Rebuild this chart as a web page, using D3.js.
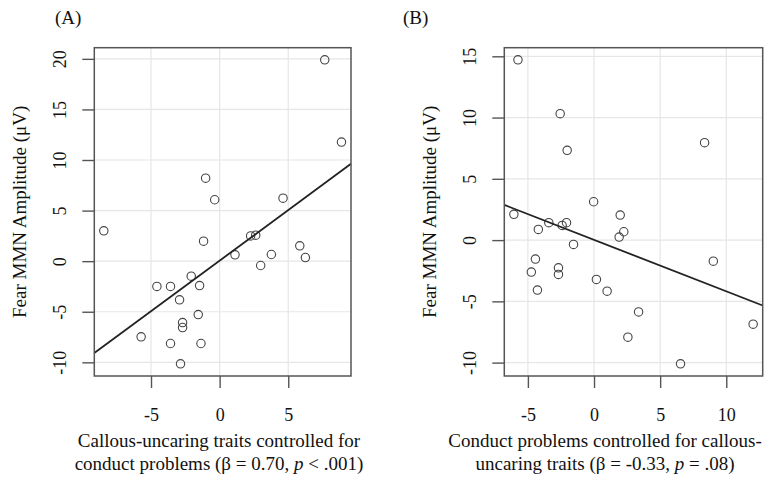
<!DOCTYPE html>
<html>
<head>
<meta charset="utf-8">
<script src="https://cdn.jsdelivr.net/npm/d3@7"></script>
<style>
  body { margin: 0; background: #fff; }
  text { font-family: "Liberation Serif", "Times New Roman", serif; fill: #111; }
</style>
</head>
<body>
<div id="chart"></div>
<script>
// Panel A: callous-uncaring traits (residual) vs fear MMN amplitude
var cuTraits = [-8.44, 7.66, 8.88, -1.02, -0.36, 4.62, -1.17, 2.26, 2.63, 1.12, 3.77, 2.99, 5.84,
    6.25, -2.07, -4.57, -3.58, -1.46, -2.92, -1.56, -2.70, -2.70, -5.72, -3.58, -1.36, -2.85];
var fearA = [3.0, 19.9, 11.77, 8.2, 6.07, 6.23, 1.98, 2.5, 2.57, 0.63, 0.66, -0.43, 1.52,
    0.36, -1.48, -2.5, -2.5, -2.41, -3.82, -5.28, -6.07, -6.56, -7.48, -8.14, -8.14, -10.15];
// intercept, slope
var fitA = [0.05, 1.0];

// Panel B: conduct problems (residual) vs fear MMN amplitude
var conduct = [-5.75, -6.06, -2.56, -2.03, 8.36, -0.03, 1.98, 2.25, 1.90, -3.42, -2.41, -2.08, -4.21,
    -1.55, -4.43, -4.74, -2.69, -2.69, -4.28, 0.18, 0.99, 9.02, 3.37, 2.56, 6.54, 12.03];
var fearB = [14.71, 2.10, 10.32, 7.33, 7.95, 3.13, 2.04, 0.68, 0.25, 1.42, 1.20, 1.42, 0.87,
    -0.35, -1.55, -2.61, -2.26, -2.80, -4.08, -3.21, -4.17, -1.72, -5.86, -7.92, -10.10, -6.86];
var fitB = [0.02, -0.42];

var xTicksA = [-5, 0, 5];
var yTicksA = [-10, -5, 0, 5, 10, 15, 20];
var xTicksB = [-5, 0, 5, 10];
var yTicksB = [-10, -5, 0, 5, 10, 15];

var yTitle = 'Fear MMN Amplitude (\u03bcV)';

var chart_width = 775;
var chart_height = 481;

var svg = d3.select('#chart')
    .append('svg')
    .attr('width', chart_width)
    .attr('height', chart_height);

// R style 4% padding around the data range
function padded(vals) {
    var ext = d3.extent(vals);
    var pad = (ext[1] - ext[0]) * 0.04;
    return [ext[0] - pad, ext[1] + pad];
}

// plain hyphen like R, not the unicode minus
function fmt(d) { return String(d); }

function drawPanel(p) {
    var x_scale = d3.scaleLinear().domain(padded(p.x)).range([p.left, p.right]);
    var y_scale = d3.scaleLinear().domain(padded(p.y)).range([p.bottom, p.top]);
    var g = svg.append('g');

    // grid
    g.selectAll('.gx').data(p.xTicks).enter().append('line')
        .attr('x1', function(d) { return x_scale(d); })
        .attr('x2', function(d) { return x_scale(d); })
        .attr('y1', p.top).attr('y2', p.bottom)
        .attr('stroke', '#e6e6e6').attr('stroke-width', 1.2);
    g.selectAll('.gy').data(p.yTicks).enter().append('line')
        .attr('y1', function(d) { return y_scale(d); })
        .attr('y2', function(d) { return y_scale(d); })
        .attr('x1', p.left).attr('x2', p.right)
        .attr('stroke', '#e6e6e6').attr('stroke-width', 1.2);

    // axes
    var x_axis = d3.axisBottom(x_scale).tickValues(p.xTicks).tickSize(12).tickPadding(20)
        .tickFormat(fmt);
    var gx = g.append('g')
        .attr('transform', 'translate(0,' + p.bottom + ')')
        .call(x_axis)
        .attr('font-family', null);
    gx.select('.domain').remove();
    gx.selectAll('line').attr('stroke', '#555').attr('stroke-width', 1.4);
    gx.selectAll('text').attr('font-size', 18).attr('fill', '#222');

    var y_axis = d3.axisLeft(y_scale).tickValues(p.yTicks).tickSize(12).tickFormat(fmt);
    var gy = g.append('g')
        .attr('transform', 'translate(' + p.left + ',0)')
        .call(y_axis)
        .attr('font-family', null);
    gy.select('.domain').remove();
    gy.selectAll('line').attr('stroke', '#555').attr('stroke-width', 1.4);
    gy.selectAll('text')
        .attr('font-size', 18).attr('fill', '#222')
        .attr('x', null).attr('dy', null)
        .attr('text-anchor', 'middle')
        .attr('transform', 'translate(-28,0) rotate(-90)');

    // points
    var pts = p.x.map(function(d, i) { return [d, p.y[i]]; });
    g.selectAll('circle').data(pts).enter().append('circle')
        .attr('cx', function(d) { return x_scale(d[0]); })
        .attr('cy', function(d) { return y_scale(d[1]); })
        .attr('r', 4.2)
        .attr('fill', 'none')
        .attr('stroke', '#444')
        .attr('stroke-width', 1.1);

    // regression line across the box
    var xd = x_scale.domain();
    g.append('line')
        .attr('x1', x_scale(xd[0])).attr('y1', y_scale(p.fit[0] + p.fit[1] * xd[0]))
        .attr('x2', x_scale(xd[1])).attr('y2', y_scale(p.fit[0] + p.fit[1] * xd[1]))
        .attr('stroke', '#222').attr('stroke-width', 1.8);

    // box
    g.append('rect')
        .attr('x', p.left).attr('y', p.top)
        .attr('width', p.right - p.left).attr('height', p.bottom - p.top)
        .attr('fill', 'none').attr('stroke', '#555').attr('stroke-width', 1.5);

    // titles
    g.append('text').text(p.tag)
        .attr('x', p.tagX).attr('y', 24).attr('font-size', 19);
    g.append('text').text(yTitle)
        .attr('font-size', 19)
        .attr('text-anchor', 'middle')
        .attr('transform', 'translate(' + (p.left - 68) + ',' + ((p.top + p.bottom) / 2) + ') rotate(-90)');
    var xl = g.append('text').attr('font-size', 19).attr('text-anchor', 'middle');
    p.xLabel.forEach(function(line, i) {
        var t = xl.append('tspan').attr('x', p.labelX).attr('y', 447 + i * 23);
        line.forEach(function(seg) {
            t.append('tspan').text(seg[0]).attr('font-style', seg[1] ? 'italic' : null);
        });
    });
}

drawPanel({
    x: cuTraits, y: fearA, fit: fitA, xTicks: xTicksA, yTicks: yTicksA,
    left: 94.3, right: 351, top: 47.7, bottom: 376,
    tag: '(A)', tagX: 55, labelX: 219,
    xLabel: [
        [['Callous-uncaring traits controlled for', false]],
        [['conduct problems (\u03b2 = 0.70, ', false], ['p', true], [' < .001)', false]]
    ]
});

drawPanel({
    x: conduct, y: fearB, fit: fitB, xTicks: xTicksB, yTicks: yTicksB,
    left: 504.3, right: 762.7, top: 47.7, bottom: 376,
    tag: '(B)', tagX: 403, labelX: 605,
    xLabel: [
        [['Conduct problems controlled for callous-', false]],
        [['uncaring traits (\u03b2 = -0.33, ', false], ['p', true], [' = .08)', false]]
    ]
});
</script>
</body>
</html>
